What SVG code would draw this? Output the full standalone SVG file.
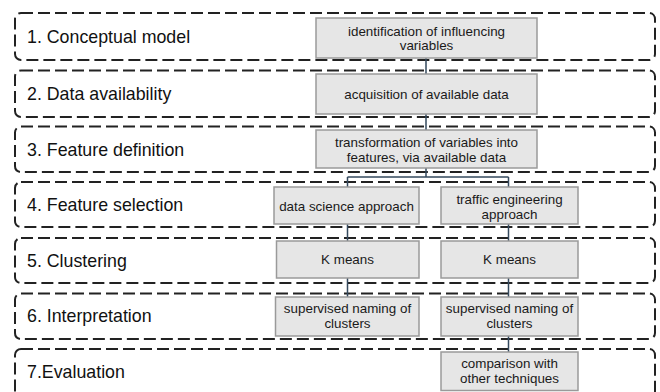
<svg xmlns="http://www.w3.org/2000/svg" width="660" height="392" viewBox="0 0 660 392">
<style>
.band{fill:none;stroke:#222;stroke-width:2;stroke-dasharray:12 5}
.lbl{font-family:"Liberation Sans",Arial,sans-serif;font-size:17.8px;fill:#111}
.box{fill:#e6e6e6;stroke:#9a9a9a;stroke-width:1.5}
.bt{font-family:"Liberation Sans",Arial,sans-serif;font-size:13.4px;fill:#1a1a1a;text-anchor:middle}
.con{fill:none;stroke:#34495e;stroke-width:1.5}
</style>
<rect width="660" height="392" fill="#fff"/>
<g id="bands">
<g id="band1"><rect class="band" x="15" y="13" width="640" height="47" rx="6"/><text class="lbl" x="27" y="42.5">1. Conceptual model</text></g>
<g id="band2"><rect class="band" x="15" y="70.5" width="640" height="46.5" rx="6"/><text class="lbl" x="27" y="100">2. Data availability</text></g>
<g id="band3"><rect class="band" x="15" y="126.5" width="640" height="45.5" rx="6"/><text class="lbl" x="27" y="155.5">3. Feature definition</text></g>
<g id="band4"><rect class="band" x="15" y="182" width="640" height="45" rx="6"/><text class="lbl" x="27" y="210.5">4. Feature selection</text></g>
<g id="band5"><rect class="band" x="15" y="238" width="640" height="45" rx="6"/><text class="lbl" x="27" y="266.5">5. Clustering</text></g>
<g id="band6"><rect class="band" x="15" y="293.5" width="640" height="45.5" rx="6"/><text class="lbl" x="27" y="322">6. Interpretation</text></g>
<g id="band7"><rect class="band" x="15" y="349" width="640" height="60" rx="6"/><text class="lbl" x="27" y="377.5">7.Evaluation</text></g>
</g>
<g id="connectors">
<path class="con" d="M426 58V74M426 114V130M426 168V177M347.5 177H508.5M347.5 177V187M508.5 177V187"/>
<path class="con" d="M347.5 224V241M347.5 278V297"/>
<path class="con" d="M508.5 224V241M508.5 278V297M508.5 336V352"/>
</g>
<g id="n1"><rect class="box" x="316" y="18" width="221" height="40"/><text class="bt" x="426.5" y="35.5">identification of influencing</text><text class="bt" x="426.5" y="50">variables</text></g>
<g id="n2"><rect class="box" x="316" y="74" width="221" height="40"/><text class="bt" x="426.5" y="99">acquisition of available data</text></g>
<g id="n3"><rect class="box" x="316" y="130" width="221" height="38"/><text class="bt" x="426.5" y="146.5">transformation of variables into</text><text class="bt" x="426.5" y="161.5">features, via available data</text></g>
<g id="n4a"><rect class="box" x="274" y="187" width="145" height="37"/><text class="bt" x="346.5" y="210.5">data science approach</text></g>
<g id="n4b"><rect class="box" x="441" y="187" width="137" height="37"/><text class="bt" x="509.5" y="203.5">traffic engineering</text><text class="bt" x="509.5" y="218.5">approach</text></g>
<g id="n5a"><rect class="box" x="276.5" y="241" width="142.5" height="37"/><text class="bt" x="347.5" y="264">K means</text></g>
<g id="n5b"><rect class="box" x="441" y="241" width="137" height="37"/><text class="bt" x="509.5" y="264">K means</text></g>
<g id="n6a"><rect class="box" x="275.5" y="297" width="143.5" height="39"/><text class="bt" x="347.5" y="312.5">supervised naming of</text><text class="bt" x="347.5" y="327.5">clusters</text></g>
<g id="n6b"><rect class="box" x="441" y="297" width="137" height="39"/><text class="bt" x="509.5" y="312.5">supervised naming of</text><text class="bt" x="509.5" y="327.5">clusters</text></g>
<g id="n7"><rect class="box" x="441" y="352" width="137" height="38.5"/><text class="bt" x="509.5" y="367.5">comparison with</text><text class="bt" x="509.5" y="382.5">other techniques</text></g>
</svg>
